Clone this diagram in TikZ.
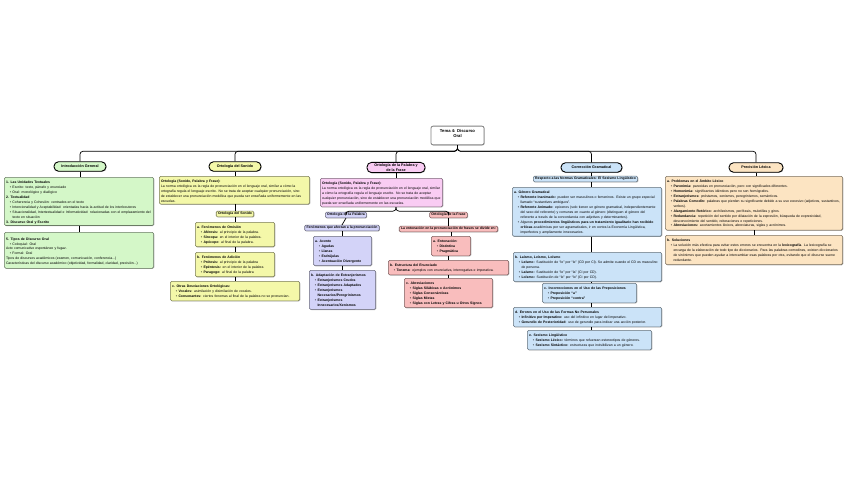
\documentclass[tikz,border=0pt]{standalone}
\usepackage{fontspec}
\setmainfont{Liberation Sans}
\usetikzlibrary{shadows}
\definecolor{gfill}{HTML}{D4F7C8}
\definecolor{yfill}{HTML}{F4F8A9}
\definecolor{mfill}{HTML}{F9CCF3}
\definecolor{sfill}{HTML}{F9BDBD}
\definecolor{lfill}{HTML}{D3D3F8}
\definecolor{bfill}{HTML}{CBE3F8}
\definecolor{ofill}{HTML}{FCE4C2}
\hyphenpenalty=10000
\exhyphenpenalty=10000
\newcommand\fs{\fontsize{3.45}{4.9}\selectfont}
\newcommand\bl[1]{\par\noindent\makebox[6.5pt][r]{\textbullet\hspace{1.4pt}}\parbox[t]{\dimexpr\hsize-6.5pt\relax}{\raggedright #1\strut}\par\prevdepth=\dp\strutbox}
\newcommand\hd[1]{\par\noindent\textbf{#1}}
\newcommand\pp{\par\noindent}
\tikzset{
 shd/.style={drop shadow={shadow xshift=0.6pt,shadow yshift=-0.6pt,opacity=0.3,fill=black}},
 box/.style={shd, fill=#1, draw=#1!50!black, line width=0.55pt, rounded corners=1.5pt, inner sep=1.7pt, align=left, font=\fs, anchor=north},
 lbl/.style={shd, fill=#1, draw=#1!50!black, line width=0.55pt, rounded corners=1.2pt, inner xsep=1.8pt, inner ysep=1.2pt, align=center, font=\fs\bfseries},
 pill/.style={shd, fill=#1, draw=black, line width=0.9pt, rounded corners=4.5pt, inner xsep=3pt, inner ysep=1.5pt, minimum height=9.5pt, align=center, font=\bfseries\fontsize{3.7}{4.4}\selectfont},
 ttl/.style={shd, fill=white, draw=black!50, line width=0.8pt, rounded corners=2pt, minimum width=53pt, minimum height=17pt, align=center, font=\bfseries\fontsize{4.2}{5}\selectfont},
 conn/.style={draw=black, line width=0.7pt, rounded corners=3pt},
}
\begin{document}
\begin{tikzpicture}[x=1pt,y=-1pt]
\fill[white] (0,0) rectangle (848,477);
\useasboundingbox (0,0) rectangle (848,477);

\node[ttl] (t) at (457.5,135.5) {Tema 4: Discurso\\Oral\\[-1pt]{\fontsize{2}{2.5}\selectfont\phantom{x}}};

\node[pill=gfill, minimum width=52pt] (n1) at (80,166.5) {Introducción General};
\node[pill=yfill, minimum width=52pt] (n2) at (235,166.5) {Ortología del Sonido};
\node[pill=mfill, minimum width=58pt] (n3) at (396,167.5) {Ortología de la Palabra y\\de la Frase};
\node[pill=bfill, minimum width=61pt] (n4) at (591.5,167.5) {Corrección Gramatical};
\node[pill=ofill, minimum width=54pt] (n5) at (756,167.5) {Precisión Léxica};

\foreach \n in {n1,n2,n3,n4,n5} \draw[conn] (t.south) -- ++(0,6) -| (\n.north);

% column 1
\node[box=gfill, text width=146pt] (c1a) at (79,177) {%
\hd{1. Las Unidades Textuales}
\bl{Escrito: texto, párrafo y enunciado}
\bl{Oral: monológico y dialógico}
\hd{2. Textualidad}
\bl{Coherencia y Cohesión: centrados en el texto}
\bl{Intencionalidad y Aceptabilidad: orientadas hacia la actitud de los interlocutores}
\bl{Situacionalidad, Intertextualidad e Informatividad: relacionadas con el emplazamiento del texto en situación}
\hd{3. Discurso Oral y Escrito}};
\node[box=gfill, text width=146pt, minimum height=36pt] (c1b) at (79,232) {%
\hd{5. Tipos de Discurso Oral}
\bl{Coloquial: Oral}
\pp Acto comunicativo espontáneo y fugaz.
\bl{Formal: Oral}
\pp Tipos de discursos académicos (examen, comunicación, conferencia...)
\pp Características del discurso académico (objetividad, formalidad, claridad, precisión...)};
\draw[conn] (n1.south) -- (n1.south |- c1a.north);
\draw[conn] (c1a.south) -- (c1a.south |- c1b.north);

% column 2
\node[box=yfill, text width=147pt] (c2a) at (234.5,176) {%
\hd{Ortología (Sonido, Palabra y Frase):}
\pp La norma ortológica es la regla de pronunciación en el lenguaje oral, similar a cómo la ortografía regula el lenguaje escrito. No se trata de aceptar cualquier pronunciación, sino de establecer una pronunciación modélica que pueda ser enseñada uniformemente en las escuelas.};
\node[lbl=yfill] (c2s) at (235,214) {Ortología del Sonido};
\node[box=yfill, text width=76pt] (c2b) at (235,222) {%
\hd{a. Fenómenos de Omisión}
\bl{\textbf{Aféresis:} al principio de la palabra.}
\bl{\textbf{Síncopa:} en el interior de la palabra.}
\bl{\textbf{Apócope:} al final de la palabra.}};
\node[box=yfill, text width=76pt] (c2c) at (235,252) {%
\hd{b. Fenómenos de Adición}
\bl{\textbf{Prótesis:} al principio de la palabra}
\bl{\textbf{Epéntesis:} en el interior de la palabra}
\bl{\textbf{Paragoge:} al final de la palabra}};
\node[box=yfill, text width=126pt] (c2d) at (235,281) {%
\hd{c. Otras Desviaciones Ortológicas:}
\bl{\textbf{Vocales:} asimilación y disimilación de vocales.}
\bl{\textbf{Consonantes:} ciertos fonemas al final de la palabra no se pronuncian.}};
\draw[conn] (n2.south) -- (n2.south |- c2a.north);
\draw[conn] (c2s.north |- c2a.south) -- (c2s.north);
\draw[conn] (c2s.south) -- (c2s.south |- c2b.north);
\draw[conn] (c2b.south) -- (c2b.south |- c2c.north);
\draw[conn] (c2c.south) -- (c2c.south |- c2d.north);

% column 3
\node[box=mfill, text width=119pt] (c3a) at (381.5,178) {%
\hd{Ortología (Sonido, Palabra y Frase):}
\pp La norma ortológica es la regla de pronunciación en el lenguaje oral, similar a cómo la ortografía regula el lenguaje escrito. No se trata de aceptar cualquier pronunciación, sino de establecer una pronunciación modélica que pueda ser enseñada uniformemente en las escuelas.};
\node[lbl=lfill] (c3p) at (346,215) {Ortología de la Palabra};
\node[lbl=sfill] (c3f) at (448.5,215) {Ortología de la Frase};
\node[lbl=lfill] (c3p2) at (342,228) {Fenómenos que afectan a la pronunciación};
\node[lbl=sfill] (c3f2) at (448.5,229) {La entonación en la pronunciación de frases se divide en:};
\node[box=lfill, text width=55pt] (c3pa) at (342.5,236) {%
\hd{a. Acento}
\bl{\textbf{Agudas}}
\bl{\textbf{Llanas}}
\bl{\textbf{Esdrújulas}}
\bl{\textbf{Acentuación Divergente}}};
\node[box=lfill, text width=63pt] (c3pb) at (342.5,270) {%
\hd{b. Adaptación de Extranjerismos}
\bl{\textbf{Extranjerismos Crudos}}
\bl{\textbf{Extranjerismos Adaptados}}
\bl{\textbf{Extranjerismos Necesarios/Peregrinismos}}
\bl{\textbf{Extranjerismos Innecesarios/Xenismos}}};
\node[box=sfill, text width=36pt] (c3fa) at (451,236) {%
\hd{a. Entonación:}
\bl{\textbf{Distintiva}}
\bl{\textbf{Pragmática}}};
\node[box=sfill, text width=117pt] (c3fb) at (448.5,260) {%
\hd{b. Estructura del Enunciado}
\bl{\textbf{Tonema:} ejemplos con enunciativa, interrogativa e imperativa.}};
\node[box=sfill, text width=85pt] (c3fc) at (448.5,278) {%
\hd{c. Abreviaciones}
\bl{\textbf{Siglas Silábicas o Acrónimos}}
\bl{\textbf{Siglas Consonánticas}}
\bl{\textbf{Siglas Mixtas}}
\bl{\textbf{Siglas con Letras y Cifras u Otros Signos}}};
\draw[conn] (n3.south) -- (n3.south |- c3a.north);
\draw[conn] (c3a.south -| n3) -- ++(0,4) -| (c3p.north);
\draw[conn] (c3a.south -| n3) -- ++(0,4) -| (c3f.north);
\draw[conn] (c3p.south) -- (c3p2.north);
\draw[conn] (c3f.south) -- (c3f2.north);
\draw[conn] (c3p2.south) -- (c3p2.south |- c3pa.north);
\draw[conn] (c3pa.south) -- (c3pa.south |- c3pb.north);
\draw[conn] (c3fa.north |- c3f2.south) -- (c3fa.north);
\draw[conn] (c3fa.south -| c3fb) -- (c3fb.north);
\draw[conn] (c3fb.south) -- (c3fb.south |- c3fc.north);

% column 4
\node[lbl=bfill] (c4h) at (585.5,179) {Respecto a las Normas Gramaticales: El Sexismo Lingüístico};
\node[box=bfill, text width=146pt] (c4a) at (587,187) {%
\hd{a. Género Gramatical}
\bl{\textbf{Referente Inanimado:} pueden ser masculinos o femeninos. Existe un grupo especial llamado “sustantivos ambiguos”.}
\bl{\textbf{Referente Animado:} epicenos (solo tienen un género gramatical, independientemente del sexo del referente) y comunes en cuanto al género (distinguen el género del referente a través de la concordancia con adjetivos y determinantes).}
\bl{Algunos \textbf{procedimientos lingüísticos para un tratamiento igualitario han recibido críticas} académicas por ser agramaticales, ir en contra la Economía Lingüística, imperfectos y ampliamente innecesarios.}};
\node[box=bfill, text width=145pt] (c4b) at (587.5,252) {%
\hd{b. Laísmo, Leísmo, Loísmo}
\bl{\textbf{Leísmo:} Sustitución de “lo” por “le” (CD por CI). Se admite cuando el CD es masculino de persona.}
\bl{\textbf{Laísmo:} Sustitución de “le” por “la” (CI por CD).}
\bl{\textbf{Loísmo:} Sustitución de “le” por “lo” (CI por CD).}};
\node[box=bfill, text width=91pt] (c4c) at (589.5,283) {%
\hd{c. Incorrecciones en el Uso de las Preposiciones}
\bl{\textbf{Preposición “a”}}
\bl{\textbf{Preposición “contra”}}};
\node[box=bfill, text width=145pt] (c4d) at (587.5,307) {%
\hd{d. Errores en el Uso de las Formas No Personales}
\bl{\textbf{Infinitivo por Imperativo:} uso del infinitivo en lugar del imperativo.}
\bl{\textbf{Gerundio de Posterioridad:} uso de gerundio para indicar una acción posterior.}};
\node[box=bfill, text width=121pt] (c4e) at (589.5,330) {%
\hd{e. Sexismo Lingüístico}
\bl{\textbf{Sexismo Léxico:} términos que refuerzan estereotipos de géneros.}
\bl{\textbf{Sexismo Sintáctico:} estructuras que invisibilizan a un género.}};
\draw[conn] (n4.south) -- (n4.south |- c4h.north);
\draw[conn] (c4h.south -| n4) -- (c4a.north -| n4);
\draw[conn] (c4a.south -| n4) -- (c4b.north -| n4);
\draw[conn] (c4b.south -| n4) -- (c4c.north -| n4);
\draw[conn] (c4c.south -| n4) -- (c4d.north -| n4);
\draw[conn] (c4d.south -| n4) -- (c4e.north -| n4);

% column 5
\node[box=ofill, text width=174pt] (c5a) at (754,176) {%
\hd{a. Problemas en el Ámbito Léxico}
\bl{\textbf{Paronimia:} parecidas en pronunciación, pero con significados diferentes.}
\bl{\textbf{Homonimia:} significantes idénticos pero no son homógrafos.}
\bl{\textbf{Extranjerismos:} préstamos, xenismos, peregrinismos, semánticos.}
\bl{\textbf{Palabras Comodín:} palabras que pierden su significante debido a su uso excesivo (adjetivos, sustantivos, verbos).}
\bl{\textbf{Alargamiento Retórico:} archilexismos, perífrasis, muletillas y giros.}
\bl{\textbf{Redundancia:} repetición del sentido por dilatación de la expresión, búsqueda de expresividad, desconocimiento del sentido, reiteraciones o repeticiones.}
\bl{\textbf{Abreviaciones:} acortamientos léxicos, abreviaturas, siglas y acrónimos.}};
\node[box=ofill, text width=174pt] (c5b) at (754,235) {%
\hd{b. Soluciones}
\bl{La solución más efectiva para evitar estos errores se encuentra en la \textbf{lexicografía}. La lexicografía se encarga de la elaboración de todo tipo de diccionarios. Para las palabras comodines, existen diccionarios de sinónimos que pueden ayudar a intercambiar esas palabras por otra, evitando que el discurso suene redundante.}};
\draw[conn] (n5.south) -- (n5.south |- c5a.north);
\draw[conn] (c5a.south) -- (c5a.south |- c5b.north);
\end{tikzpicture}
\end{document}
